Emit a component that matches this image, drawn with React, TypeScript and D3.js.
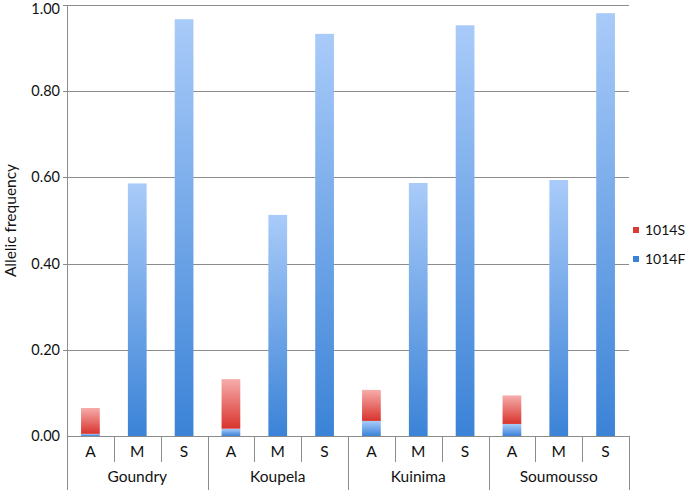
import React, { useRef, useEffect } from "react";
import * as d3 from "d3";

const sites = ["Goundry", "Koupela", "Kuinima", "Soumousso"];
const genotypes = ["A", "M", "S"];
// one value per site x genotype, in order
const freq1014F = [0.005, 0.586, 0.967, 0.017, 0.513, 0.933, 0.035, 0.587, 0.953, 0.028, 0.594, 0.981];
const freq1014S = [0.06, 0, 0, 0.115, 0, 0, 0.072, 0, 0, 0.066, 0, 0];
const yTicks = [0, 0.2, 0.4, 0.6, 0.8, 1.0];
const seriesNames = ["1014S", "1014F"];

const FONT = "Lato, 'Open Sans', sans-serif";

const App = () => {
  const ref = useRef<SVGSVGElement>(null);

  useEffect(() => {
    const svg = d3.select(ref.current);
    svg.selectAll("*").remove();

    const W = 685;
    const H = 490;
    const left = 67;
    const right = 629;
    const top = 5;
    const bottom = 436;

    svg.attr("width", W).attr("height", H);

    const defs = svg.append("defs");
    const grad = (id, c0, c1) => {
      const g = defs
        .append("linearGradient")
        .attr("id", id)
        .attr("x1", 0)
        .attr("y1", 0)
        .attr("x2", 0)
        .attr("y2", 1);
      g.append("stop").attr("offset", "0%").attr("stop-color", c0);
      g.append("stop").attr("offset", "100%").attr("stop-color", c1);
    };
    grad("gBlue", "#a9cbf9", "#3b83d7");
    grad("gRed", "#f6adab", "#d9332d");

    const rows = sites.flatMap((s, i) =>
      genotypes.map((g, j) => ({
        key: s + "-" + g,
        site: s,
        geno: g,
        f: freq1014F[i * 3 + j],
        s: freq1014S[i * 3 + j],
      }))
    );
    const keys = rows.map((d) => d.key);

    const x = d3.scaleBand().domain(keys).range([left, right]).paddingInner(0.6).paddingOuter(0.3);
    const xCell = d3.scaleBand().domain(keys).range([left, right]).padding(0);
    const xSite = d3.scaleBand().domain(sites).range([left, right]).padding(0);
    const y = d3.scaleLinear().domain([0, 1]).range([bottom, top]);

    // gridlines
    svg
      .append("g")
      .selectAll("line")
      .data(yTicks.filter((t) => t > 0))
      .enter()
      .append("line")
      .attr("x1", left - 4)
      .attr("x2", right)
      .attr("y1", (d) => Math.round(y(d)) + 0.5)
      .attr("y2", (d) => Math.round(y(d)) + 0.5)
      .attr("stroke", "#8c8c8c")
      .attr("stroke-width", 1);

    // y tick labels
    svg
      .append("g")
      .selectAll("text")
      .data(yTicks)
      .enter()
      .append("text")
      .attr("x", left - 7)
      .attr("y", (d) => Math.max(y(d) + 5, 14))
      .attr("text-anchor", "end")
      .attr("font-family", FONT)
      .attr("font-size", 14.5)
      .attr("fill", "#111")
      .text((d) => d.toFixed(2));

    // y label
    svg
      .append("text")
      .attr("transform", `translate(16,${(top + bottom) / 2}) rotate(-90)`)
      .attr("text-anchor", "middle")
      .attr("font-family", FONT)
      .attr("font-size", 15.5)
      .attr("fill", "#111")
      .text("Allelic frequency");

    // bars
    const bars = svg.append("g");
    bars
      .selectAll(".f")
      .data(rows.filter((d) => d.f > 0))
      .enter()
      .append("rect")
      .attr("x", (d) => x(d.key))
      .attr("width", x.bandwidth())
      .attr("y", (d) => y(d.f))
      .attr("height", (d) => y(0) - y(d.f))
      .attr("fill", "url(#gBlue)");
    bars
      .selectAll(".s")
      .data(rows.filter((d) => d.s > 0))
      .enter()
      .append("rect")
      .attr("x", (d) => x(d.key))
      .attr("width", x.bandwidth())
      .attr("y", (d) => y(d.f + d.s))
      .attr("height", (d) => y(d.f) - y(d.f + d.s))
      .attr("fill", "url(#gRed)");

    // axes
    const ax = svg.append("g").attr("stroke", "#8c8c8c").attr("stroke-width", 1);
    ax.append("line")
      .attr("x1", left + 0.5)
      .attr("x2", left + 0.5)
      .attr("y1", top)
      .attr("y2", H);
    ax.append("line")
      .attr("x1", left)
      .attr("x2", right)
      .attr("y1", bottom + 0.5)
      .attr("y2", bottom + 0.5);
    // cell separators
    ax.selectAll(".sep")
      .data(keys.filter((k, i) => i % 3 !== 0))
      .enter()
      .append("line")
      .attr("x1", (d) => Math.round(xCell(d)) + 0.5)
      .attr("x2", (d) => Math.round(xCell(d)) + 0.5)
      .attr("y1", bottom)
      .attr("y2", bottom + 26);
    // group separators
    ax.selectAll(".gsep")
      .data(sites.slice(1).map((s) => xSite(s)).concat([right]))
      .enter()
      .append("line")
      .attr("x1", (d) => Math.round(d) + 0.5)
      .attr("x2", (d) => Math.round(d) + 0.5)
      .attr("y1", bottom)
      .attr("y2", H);

    // category labels
    svg
      .append("g")
      .selectAll("text")
      .data(rows)
      .enter()
      .append("text")
      .attr("x", (d) => xCell(d.key) + xCell.bandwidth() / 2)
      .attr("y", bottom + 21)
      .attr("text-anchor", "middle")
      .attr("font-family", FONT)
      .attr("font-size", 15.5)
      .attr("fill", "#111")
      .text((d) => d.geno);

    svg
      .append("g")
      .selectAll("text")
      .data(sites)
      .enter()
      .append("text")
      .attr("x", (d) => xSite(d) + xSite.bandwidth() / 2)
      .attr("y", bottom + 46)
      .attr("text-anchor", "middle")
      .attr("font-family", FONT)
      .attr("font-size", 15.5)
      .attr("fill", "#111")
      .text((d) => d);

    // legend
    const legendColors = ["#dc3a34", "#3b82d6"];
    const lg = svg
      .append("g")
      .selectAll("g")
      .data(seriesNames)
      .enter()
      .append("g")
      .attr("transform", (d, i) => `translate(633,${227 + i * 29})`);
    lg.append("rect")
      .attr("width", 6)
      .attr("height", 6)
      .attr("fill", (d, i) => legendColors[i]);
    lg.append("text")
      .attr("x", 12)
      .attr("y", 8)
      .attr("font-family", FONT)
      .attr("font-size", 14)
      .attr("fill", "#111")
      .text((d) => d);
  }, []);

  return (
    <svg
      ref={ref}
      style={{ position: "absolute", left: 0, top: 0, display: "block", background: "#fff" }}
    />
  );
};

export default App;
